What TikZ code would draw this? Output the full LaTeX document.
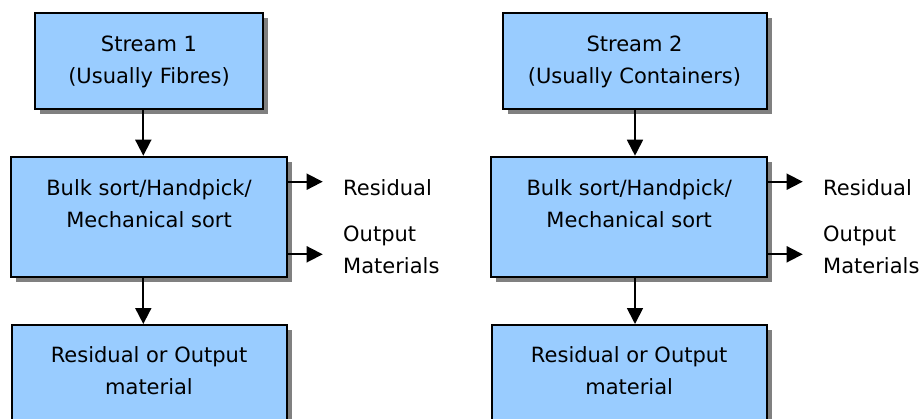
\documentclass[tikz,border=0pt]{standalone}
\usepackage{fontspec}
\setmainfont{DejaVu Sans}
\usetikzlibrary{shadows,arrows.meta}
\definecolor{boxblue}{HTML}{99CCFF}
\begin{document}
\begin{tikzpicture}[x=1pt,y=-1pt,
  procbox/.style={draw=black, line width=2pt, fill=boxblue, inner sep=0pt,
    drop shadow={shadow xshift=5pt, shadow yshift=-5pt, fill=black!50, opacity=1}},
  boxtext/.style={align=center, font=\fontsize{21}{32}\selectfont, anchor=base, inner sep=0pt},
  sidetext/.style={align=left, font=\fontsize{21}{32}\selectfont, anchor=base west, inner sep=0pt},
  arr/.style={line width=1.8pt, -{Triangle[length=16pt,width=16pt]}}]
\path[use as bounding box] (0,0) rectangle (920,418);
\clip (0,0) rectangle (920,418);
\fill[white] (0,0) rectangle (920,418);
% left column
\node[procbox, minimum width=228pt, minimum height=96pt] (s1) at (149,60.7) {};
\node[boxtext] (s1t) at (149,83.3) {Stream 1\\(Usually Fibres)};
\node[procbox, minimum width=276.3pt, minimum height=120pt] (b1) at (149.2,216.7) {};
\node[boxtext] (b1t) at (149,227.3) {Bulk sort/Handpick/\\Mechanical sort};
\node[procbox, minimum width=275.3pt, minimum height=120pt] (r1) at (149.35,385) {};
\node[boxtext] (r1t) at (149,394) {Residual or Output\\material};
% right column
\node[procbox, minimum width=264pt, minimum height=96pt] (s2) at (635.3,60.7) {};
\node[boxtext] (s2t) at (634.5,83.3) {Stream 2\\(Usually Containers)};
\node[procbox, minimum width=276.3pt, minimum height=120pt] (b2) at (629.2,216.7) {};
\node[boxtext] (b2t) at (629.2,227.3) {Bulk sort/Handpick/\\Mechanical sort};
\node[procbox, minimum width=275.6pt, minimum height=120pt] (r2) at (629.5,385) {};
\node[boxtext] (r2t) at (629.2,394) {Residual or Output\\material};
% vertical connectors
\coordinate (axL) at (143.3,0);
\coordinate (axR) at (635,0);
\draw[arr] (s1.south -| axL) -- (b1.north -| axL);
\draw[arr] (b1.south -| axL) -- (r1.north -| axL);
\draw[arr] (s2.south -| axR) -- (b2.north -| axR);
\draw[arr] (b2.south -| axR) -- (r2.north -| axR);
% side outputs
\coordinate (res1) at (322.7,181.7);
\coordinate (out1) at (322.7,254.3);
\coordinate (res2) at (802.7,181.7);
\coordinate (out2) at (802.7,254.3);
\draw[arr] (b1.east |- res1) -- (res1);
\draw[arr] (b1.east |- out1) -- (out1);
\draw[arr] (b2.east |- res2) -- (res2);
\draw[arr] (b2.east |- out2) -- (out2);
\node[sidetext] (res1t) at (343,195) {Residual};
\node[sidetext] (out1t) at (343,273.3) {Output\\Materials};
\node[sidetext] (res2t) at (823,195) {Residual};
\node[sidetext] (out2t) at (823,273.3) {Output\\Materials};
\end{tikzpicture}
\end{document}
